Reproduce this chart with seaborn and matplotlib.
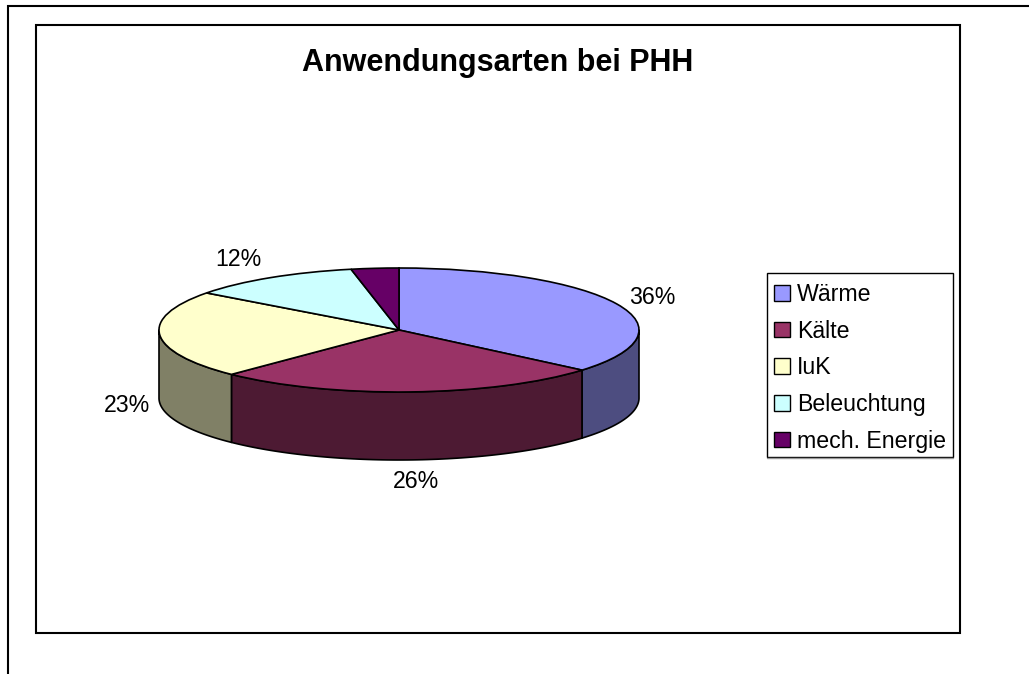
import numpy as np
import seaborn as sns
import matplotlib.pyplot as plt
from matplotlib.patches import Patch, Rectangle

# values
categories = ["Wärme", "Kälte", "IuK", "Beleuchtung", "mech. Energie"]
shares = [36.2, 26.1, 22.9, 11.6, 3.2]
pct_labels = ["36%", "26%", "23%", "12%", "3%"]
title = "Anwendungsarten bei PHH"

W, H = 1029, 674
CX, CY, RX, RY = 399, 330, 240, 62
DEPTH = 68

sns.set_theme(style="white")
plt.rcParams['font.family'] = ['Liberation Sans', 'DejaVu Sans']
colors = sns.color_palette(["#9999FF", "#993366", "#FFFFCC", "#CCFFFF", "#660066"])

fig = plt.figure(figsize=(W / 100, H / 100), dpi=100, facecolor="white")

# page axes in pixel coordinates: page lines, chart frame, texts
page = fig.add_axes([0, 0, 1, 1])
page.set_xlim(0, W)
page.set_ylim(H, 0)
page.axis("off")
page.plot([1029, 7.5, 7.5], [5.5, 5.5, 674], color="black", lw=1.5, solid_joinstyle="miter")
page.add_patch(Rectangle((36, 24.5), 924, 608, fill=False, edgecolor="black", lw=1.5))
page.text(498, 62.5, title, ha="center", va="center", fontsize=22, fontweight="bold", color="black")

label_pos = [(652, 297.5), (416, 481.5), (127, 405.5), (238, 259.5), (368, 280.5)]
for txt, (x, y) in zip(pct_labels, label_pos):
    page.text(x, y, txt, ha="center", va="center", fontsize=16.7, color="black")

# pie axes: unit circle squashed into the top ellipse
xlim = (-1.1, 1.1)
ylim = (-2.4, 1.2)
left = (CX + xlim[0] * RX) / W
width = (xlim[1] - xlim[0]) * RX / W
bottom = 1 - (CY - ylim[0] * RY) / H
height = (ylim[1] - ylim[0]) * RY / H
ax = fig.add_axes([left, bottom, width, height], facecolor="none")

edges = 90 - 3.6 * np.concatenate([[0], np.cumsum(shares)])
depth = DEPTH / RY

# side wall: only the part of each slice that faces the viewer
for i in range(len(shares)):
    a0 = max(edges[i + 1], -180)
    a1 = min(edges[i], 0)
    if a0 >= a1:
        continue
    t = np.radians(np.linspace(a0, a1, 80))
    xs = np.concatenate([np.cos(t), np.cos(t[::-1])])
    ys = np.concatenate([np.sin(t), np.sin(t[::-1]) - depth])
    wall = tuple(c * 0.5 for c in colors[i])
    ax.fill(xs, ys, facecolor=wall, edgecolor="black", lw=1.2, joinstyle="round")

ax.pie(shares, colors=colors, startangle=90, counterclock=False,
       wedgeprops={"edgecolor": "black", "linewidth": 1.2})
ax.set_aspect("auto")
ax.set_xlim(*xlim)
ax.set_ylim(*ylim)
ax.axis("off")

# legend box drawn apart, the text sits a bit low in it
page.plot([767, 953], [458, 458], color="#999999", lw=1)
page.add_patch(Rectangle((767, 273), 186, 184, facecolor="white", edgecolor="black", lw=1.0))
handles = [Patch(facecolor=c, edgecolor="black", lw=1.0) for c in colors]
page.legend(handles, categories, loc="upper left", bbox_to_anchor=(767 / W, 1 - 275.5 / H),
            bbox_transform=fig.transFigure, fontsize=16.7, frameon=False,
            borderaxespad=0, borderpad=0.32,
            labelspacing=0.59, handlelength=0.68, handleheight=0.68, handletextpad=0.28,
            labelcolor="black")

fig.savefig("out.png", dpi=100)
